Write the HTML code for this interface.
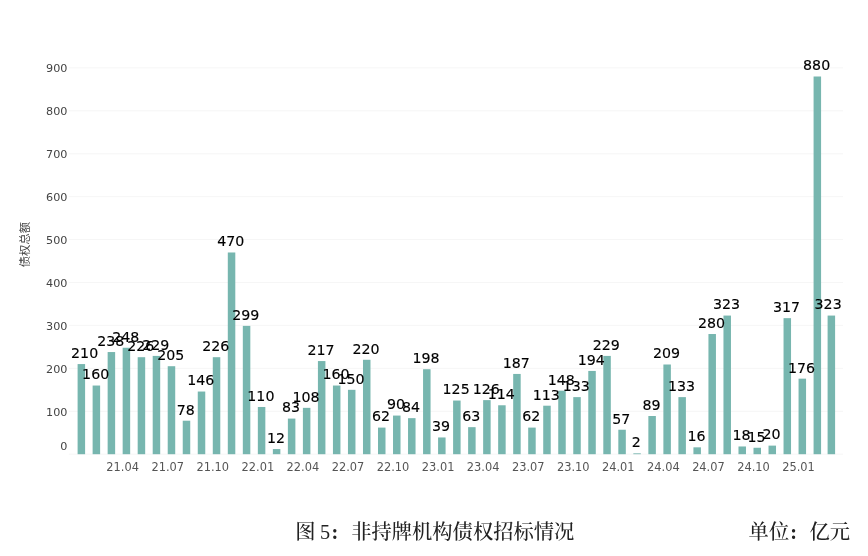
<!DOCTYPE html>
<html><head><meta charset="utf-8"><style>
html,body{margin:0;padding:0;background:#fff;}
body{width:868px;height:556px;overflow:hidden;position:relative;}
svg{position:absolute;left:0;top:0;}
.bl{font-family:"DejaVu Sans",sans-serif;font-size:14.2px;fill:#000;stroke:#000;stroke-width:0.15px;}
.yl{font-family:"DejaVu Sans",sans-serif;font-size:11.2px;fill:#444;}
.xl{font-family:"DejaVu Sans",sans-serif;font-size:11.4px;fill:#555;}
.yt{font-family:"Liberation Sans","Noto Sans CJK SC",sans-serif;font-size:11.3px;fill:#444;}
.cap{font-family:"Liberation Serif","Noto Serif CJK SC",serif;font-size:20.3px;fill:#222;font-weight:500;}
.colon{font-weight:bold;}
</style></head><body>
<svg width="868" height="556" viewBox="0 0 868 556">

<line x1="68.8" x2="843" y1="454.2" y2="454.2" stroke="#f6f6f6" stroke-width="1"/>
<line x1="68.8" x2="843" y1="411.3" y2="411.3" stroke="#f6f6f6" stroke-width="1"/>
<line x1="68.8" x2="843" y1="368.4" y2="368.4" stroke="#f6f6f6" stroke-width="1"/>
<line x1="68.8" x2="843" y1="325.4" y2="325.4" stroke="#f6f6f6" stroke-width="1"/>
<line x1="68.8" x2="843" y1="282.5" y2="282.5" stroke="#f6f6f6" stroke-width="1"/>
<line x1="68.8" x2="843" y1="239.6" y2="239.6" stroke="#f6f6f6" stroke-width="1"/>
<line x1="68.8" x2="843" y1="196.7" y2="196.7" stroke="#f6f6f6" stroke-width="1"/>
<line x1="68.8" x2="843" y1="153.8" y2="153.8" stroke="#f6f6f6" stroke-width="1"/>
<line x1="68.8" x2="843" y1="110.8" y2="110.8" stroke="#f6f6f6" stroke-width="1"/>
<line x1="68.8" x2="843" y1="67.9" y2="67.9" stroke="#f6f6f6" stroke-width="1"/>
<text class="yl" x="67.4" y="450.4" text-anchor="end">0</text>
<text class="yl" x="67.4" y="415.5" text-anchor="end">100</text>
<text class="yl" x="67.4" y="372.6" text-anchor="end">200</text>
<text class="yl" x="67.4" y="329.6" text-anchor="end">300</text>
<text class="yl" x="67.4" y="286.7" text-anchor="end">400</text>
<text class="yl" x="67.4" y="243.8" text-anchor="end">500</text>
<text class="yl" x="67.4" y="200.9" text-anchor="end">600</text>
<text class="yl" x="67.4" y="158.0" text-anchor="end">700</text>
<text class="yl" x="67.4" y="115.0" text-anchor="end">800</text>
<text class="yl" x="67.4" y="72.1" text-anchor="end">900</text>
<rect x="77.60" y="364.07" width="7.5" height="90.13" fill="#77b6af"/>
<rect x="92.62" y="385.53" width="7.5" height="68.67" fill="#77b6af"/>
<rect x="107.64" y="352.05" width="7.5" height="102.15" fill="#77b6af"/>
<rect x="122.66" y="347.76" width="7.5" height="106.44" fill="#77b6af"/>
<rect x="137.68" y="357.20" width="7.5" height="97.00" fill="#77b6af"/>
<rect x="152.70" y="355.91" width="7.5" height="98.29" fill="#77b6af"/>
<rect x="167.72" y="366.21" width="7.5" height="87.99" fill="#77b6af"/>
<rect x="182.74" y="420.72" width="7.5" height="33.48" fill="#77b6af"/>
<rect x="197.76" y="391.54" width="7.5" height="62.66" fill="#77b6af"/>
<rect x="212.78" y="357.20" width="7.5" height="97.00" fill="#77b6af"/>
<rect x="227.80" y="252.48" width="7.5" height="201.72" fill="#77b6af"/>
<rect x="242.82" y="325.87" width="7.5" height="128.33" fill="#77b6af"/>
<rect x="257.84" y="406.99" width="7.5" height="47.21" fill="#77b6af"/>
<rect x="272.86" y="449.05" width="7.5" height="5.15" fill="#77b6af"/>
<rect x="287.88" y="418.58" width="7.5" height="35.62" fill="#77b6af"/>
<rect x="302.90" y="407.85" width="7.5" height="46.35" fill="#77b6af"/>
<rect x="317.92" y="361.06" width="7.5" height="93.14" fill="#77b6af"/>
<rect x="332.94" y="385.53" width="7.5" height="68.67" fill="#77b6af"/>
<rect x="347.96" y="389.82" width="7.5" height="64.38" fill="#77b6af"/>
<rect x="362.98" y="359.78" width="7.5" height="94.42" fill="#77b6af"/>
<rect x="378.00" y="427.59" width="7.5" height="26.61" fill="#77b6af"/>
<rect x="393.02" y="415.57" width="7.5" height="38.63" fill="#77b6af"/>
<rect x="408.04" y="418.15" width="7.5" height="36.05" fill="#77b6af"/>
<rect x="423.06" y="369.22" width="7.5" height="84.98" fill="#77b6af"/>
<rect x="438.08" y="437.46" width="7.5" height="16.74" fill="#77b6af"/>
<rect x="453.10" y="400.55" width="7.5" height="53.65" fill="#77b6af"/>
<rect x="468.12" y="427.16" width="7.5" height="27.04" fill="#77b6af"/>
<rect x="483.14" y="400.12" width="7.5" height="54.08" fill="#77b6af"/>
<rect x="498.16" y="405.27" width="7.5" height="48.93" fill="#77b6af"/>
<rect x="513.18" y="373.94" width="7.5" height="80.26" fill="#77b6af"/>
<rect x="528.20" y="427.59" width="7.5" height="26.61" fill="#77b6af"/>
<rect x="543.22" y="405.70" width="7.5" height="48.50" fill="#77b6af"/>
<rect x="558.24" y="390.68" width="7.5" height="63.52" fill="#77b6af"/>
<rect x="573.26" y="397.12" width="7.5" height="57.08" fill="#77b6af"/>
<rect x="588.28" y="370.94" width="7.5" height="83.26" fill="#77b6af"/>
<rect x="603.30" y="355.91" width="7.5" height="98.29" fill="#77b6af"/>
<rect x="618.32" y="429.74" width="7.5" height="24.46" fill="#77b6af"/>
<rect x="633.34" y="453.34" width="7.5" height="0.86" fill="#77b6af"/>
<rect x="648.36" y="416.00" width="7.5" height="38.20" fill="#77b6af"/>
<rect x="663.38" y="364.50" width="7.5" height="89.70" fill="#77b6af"/>
<rect x="678.40" y="397.12" width="7.5" height="57.08" fill="#77b6af"/>
<rect x="693.42" y="447.33" width="7.5" height="6.87" fill="#77b6af"/>
<rect x="708.44" y="334.02" width="7.5" height="120.18" fill="#77b6af"/>
<rect x="723.46" y="315.57" width="7.5" height="138.63" fill="#77b6af"/>
<rect x="738.48" y="446.47" width="7.5" height="7.73" fill="#77b6af"/>
<rect x="753.50" y="447.76" width="7.5" height="6.44" fill="#77b6af"/>
<rect x="768.52" y="445.62" width="7.5" height="8.58" fill="#77b6af"/>
<rect x="783.54" y="318.14" width="7.5" height="136.06" fill="#77b6af"/>
<rect x="798.56" y="378.66" width="7.5" height="75.54" fill="#77b6af"/>
<rect x="813.58" y="76.50" width="7.5" height="377.70" fill="#77b6af"/>
<rect x="827.60" y="315.57" width="7.5" height="138.63" fill="#77b6af"/>
<text class="xl" x="122.66" y="471.4" text-anchor="middle">21.04</text>
<text class="xl" x="167.72" y="471.4" text-anchor="middle">21.07</text>
<text class="xl" x="212.78" y="471.4" text-anchor="middle">21.10</text>
<text class="xl" x="257.84" y="471.4" text-anchor="middle">22.01</text>
<text class="xl" x="302.90" y="471.4" text-anchor="middle">22.04</text>
<text class="xl" x="347.96" y="471.4" text-anchor="middle">22.07</text>
<text class="xl" x="393.02" y="471.4" text-anchor="middle">22.10</text>
<text class="xl" x="438.08" y="471.4" text-anchor="middle">23.01</text>
<text class="xl" x="483.14" y="471.4" text-anchor="middle">23.04</text>
<text class="xl" x="528.20" y="471.4" text-anchor="middle">23.07</text>
<text class="xl" x="573.26" y="471.4" text-anchor="middle">23.10</text>
<text class="xl" x="618.32" y="471.4" text-anchor="middle">24.01</text>
<text class="xl" x="663.38" y="471.4" text-anchor="middle">24.04</text>
<text class="xl" x="708.44" y="471.4" text-anchor="middle">24.07</text>
<text class="xl" x="753.50" y="471.4" text-anchor="middle">24.10</text>
<text class="xl" x="798.56" y="471.4" text-anchor="middle">25.01</text>
<text class="bl" x="84.65" y="357.9" text-anchor="middle">210</text>
<text class="bl" x="95.67" y="379.3" text-anchor="middle">160</text>
<text class="bl" x="110.69" y="345.9" text-anchor="middle">238</text>
<text class="bl" x="125.71" y="341.6" text-anchor="middle">248</text>
<text class="bl" x="140.73" y="351.0" text-anchor="middle">226</text>
<text class="bl" x="155.75" y="349.7" text-anchor="middle">229</text>
<text class="bl" x="170.77" y="360.0" text-anchor="middle">205</text>
<text class="bl" x="185.79" y="414.5" text-anchor="middle">78</text>
<text class="bl" x="200.81" y="385.3" text-anchor="middle">146</text>
<text class="bl" x="215.83" y="351.0" text-anchor="middle">226</text>
<text class="bl" x="230.85" y="246.3" text-anchor="middle">470</text>
<text class="bl" x="245.87" y="319.7" text-anchor="middle">299</text>
<text class="bl" x="260.89" y="400.8" text-anchor="middle">110</text>
<text class="bl" x="275.91" y="442.8" text-anchor="middle">12</text>
<text class="bl" x="290.93" y="412.4" text-anchor="middle">83</text>
<text class="bl" x="305.95" y="401.6" text-anchor="middle">108</text>
<text class="bl" x="320.97" y="354.9" text-anchor="middle">217</text>
<text class="bl" x="335.99" y="379.3" text-anchor="middle">160</text>
<text class="bl" x="351.01" y="383.6" text-anchor="middle">150</text>
<text class="bl" x="366.03" y="353.6" text-anchor="middle">220</text>
<text class="bl" x="381.05" y="421.4" text-anchor="middle">62</text>
<text class="bl" x="396.07" y="409.4" text-anchor="middle">90</text>
<text class="bl" x="411.09" y="411.9" text-anchor="middle">84</text>
<text class="bl" x="426.11" y="363.0" text-anchor="middle">198</text>
<text class="bl" x="441.13" y="431.3" text-anchor="middle">39</text>
<text class="bl" x="456.15" y="394.3" text-anchor="middle">125</text>
<text class="bl" x="471.17" y="421.0" text-anchor="middle">63</text>
<text class="bl" x="486.19" y="393.9" text-anchor="middle">126</text>
<text class="bl" x="501.21" y="399.1" text-anchor="middle">114</text>
<text class="bl" x="516.23" y="367.7" text-anchor="middle">187</text>
<text class="bl" x="531.25" y="421.4" text-anchor="middle">62</text>
<text class="bl" x="546.27" y="399.5" text-anchor="middle">113</text>
<text class="bl" x="561.29" y="384.5" text-anchor="middle">148</text>
<text class="bl" x="576.31" y="390.9" text-anchor="middle">133</text>
<text class="bl" x="591.33" y="364.7" text-anchor="middle">194</text>
<text class="bl" x="606.35" y="349.7" text-anchor="middle">229</text>
<text class="bl" x="621.37" y="423.5" text-anchor="middle">57</text>
<text class="bl" x="636.39" y="447.1" text-anchor="middle">2</text>
<text class="bl" x="651.41" y="409.8" text-anchor="middle">89</text>
<text class="bl" x="666.43" y="358.3" text-anchor="middle">209</text>
<text class="bl" x="681.45" y="390.9" text-anchor="middle">133</text>
<text class="bl" x="696.47" y="441.1" text-anchor="middle">16</text>
<text class="bl" x="711.49" y="327.8" text-anchor="middle">280</text>
<text class="bl" x="726.51" y="309.4" text-anchor="middle">323</text>
<text class="bl" x="741.53" y="440.3" text-anchor="middle">18</text>
<text class="bl" x="756.55" y="441.6" text-anchor="middle">15</text>
<text class="bl" x="771.57" y="439.4" text-anchor="middle">20</text>
<text class="bl" x="786.59" y="311.9" text-anchor="middle">317</text>
<text class="bl" x="801.61" y="372.5" text-anchor="middle">176</text>
<text class="bl" x="816.63" y="70.3" text-anchor="middle">880</text>
<text class="bl" x="828.15" y="309.4" text-anchor="middle">323</text>
<text class="yt" transform="translate(28.5,244.6) rotate(-90)" text-anchor="middle">债权总额</text>
<text class="cap" y="539.4"><tspan x="295.2">图</tspan><tspan x="320" class="lat">5</tspan><tspan x="331.6" class="lat colon">:</tspan><tspan x="351.2">非持牌机构债权招标情况</tspan></text>
<text class="cap" y="539.4"><tspan x="748.6">单位</tspan><tspan x="790.2" class="lat colon">:</tspan><tspan x="809.4">亿元</tspan></text>
</svg></body></html>
